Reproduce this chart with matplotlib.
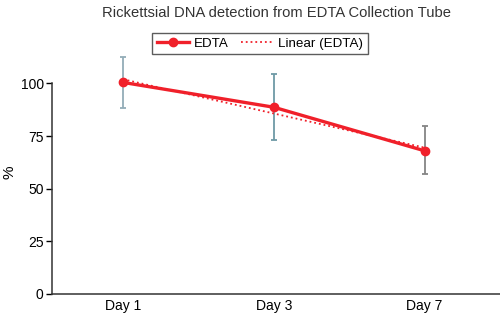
import numpy as np
import matplotlib.pyplot as plt

plt.rcParams['font.family'] = ['Liberation Sans', 'DejaVu Sans']

# Data
days = ['Day 1', 'Day 3', 'Day 7']
edta = [100.5, 88.7, 68.0]
err_low = [88.5, 73.0, 56.8]
err_high = [112.5, 104.4, 79.7]
err_colors = ['#93adb8', '#6e9aa6', '#858585']

x = np.arange(len(days))
fit = np.polyval(np.polyfit(x, edta, 1), x)

fig = plt.figure(figsize=(5, 3.15), dpi=100)
ax = fig.add_axes([0.104, 0.067, 0.896, 0.775])

# Error bars, one colour each
for xi, v, lo, hi, c in zip(x, edta, err_low, err_high, err_colors):
    ax.errorbar(xi, v, yerr=[[v - lo], [hi - v]], fmt='none', ecolor=c,
                elinewidth=1.3, capsize=2.5, capthick=1.3, zorder=2)

ax.plot(x, edta, color='#f0202a', lw=2.4, marker='o', ms=6, label='EDTA', zorder=3)
ax.plot(x, fit, color='#f0202a', lw=1.3, ls=':', label='Linear (EDTA)', zorder=4)

ax.set_xlim(-0.47, 2.5)
ax.set_ylim(0, 116)
ax.set_yticks([0, 25, 50, 75, 100])
ax.set_xticks(x)
ax.set_xticklabels(days)
ax.tick_params(axis='x', length=0, pad=4, labelsize=10)
ax.tick_params(axis='y', length=4, width=1, labelsize=10, pad=2)
ax.spines['top'].set_visible(False)
ax.spines['right'].set_visible(False)
ax.spines['left'].set_bounds(0, 100)
for s in ('left', 'bottom'):
    ax.spines[s].set_linewidth(1.1)
    ax.spines[s].set_color('#333333')
ax.set_ylabel('%', fontsize=11, labelpad=3)

fig.text(0.554, 0.96, 'Rickettsial DNA detection from EDTA Collection Tube',
         ha='center', va='center', fontsize=10.6, color='#333333')

leg = fig.legend(loc='center', bbox_to_anchor=(0.52, 0.862), ncol=2, fontsize=9.6,
                 frameon=True, fancybox=False, edgecolor='#333333',
                 handlelength=2.4, columnspacing=0.9, borderpad=0.35,
                 handletextpad=0.4)
leg.get_frame().set_linewidth(1.0)

fig.savefig('out.png', dpi=100)
